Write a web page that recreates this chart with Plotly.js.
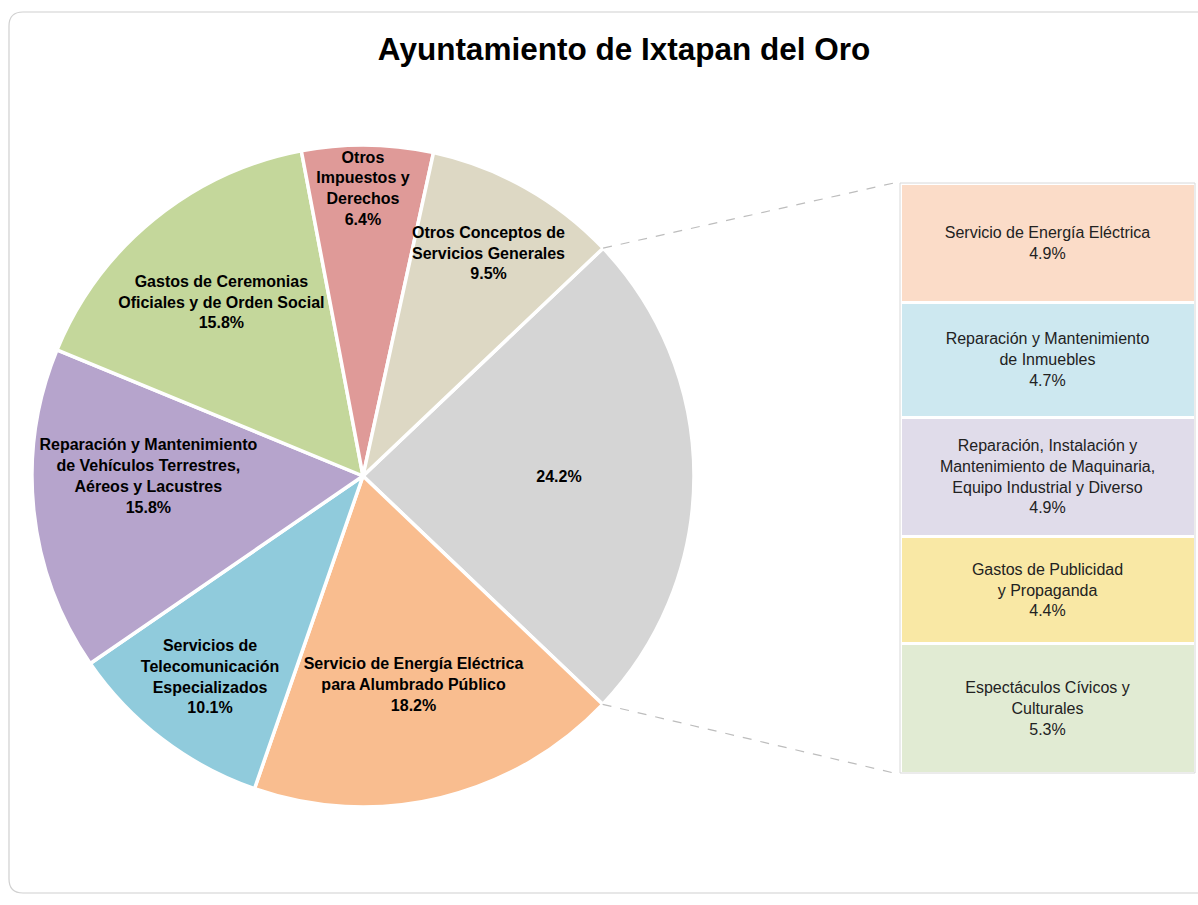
<!DOCTYPE html>
<html><head><meta charset="utf-8">
<script src="https://cdn.plot.ly/plotly-3.0.1.min.js"></script>
<style>body{margin:0;background:#fff}</style>
</head><body><div id="chart" style="width:1198px;height:905px"></div>
<script>
const chartTitle = "Ayuntamiento de Ixtapan del Oro";
const pieLabels = [
  "Otros",
  "Servicio de Energía Eléctrica<br>para Alumbrado Público",
  "Servicios de<br>Telecomunicación<br>Especializados",
  "Reparación y Mantenimiento<br>de Vehículos Terrestres,<br>Aéreos y Lacustres",
  "Gastos de Ceremonias<br>Oficiales y de Orden Social",
  "Otros<br>Impuestos y<br>Derechos",
  "Otros Conceptos de<br>Servicios Generales"
];
const pieValues = [24.2, 18.2, 10.1, 15.8, 15.8, 6.4, 9.5];
const pieColors = ["#d5d5d5", "#f9bd8f", "#90cbdc", "#b6a4cc", "#c4d79b", "#df9a98", "#ddd8c4"];

const barLabels = [
  "Servicio de Energía Eléctrica",
  "Reparación y Mantenimiento<br>de Inmuebles",
  "Reparación, Instalación y<br>Mantenimiento de Maquinaria,<br>Equipo Industrial y Diverso",
  "Gastos de Publicidad<br>y Propaganda",
  "Espectáculos Cívicos y<br>Culturales"
];
const barValues = [4.9, 4.7, 4.9, 4.4, 5.3];
const barColors = ["#fbdcc8", "#cde8f0", "#e0dcea", "#f9e8a5", "#e1ebd3"];

const W = 1198, H = 905;
// geometry (pixels)
const pieCx = 363, pieCy = 476, pieR = 331;
const rotation = 46.5;
const barX0 = 900, barX1 = 1195, barY0 = 183, barY1 = 773;

const pieText = pieLabels.map((l, i) => (i === 0 ? "" : l + "<br>") + pieValues[i].toFixed(1) + "%");

const traces = [];
traces.push({
  type: "pie",
  labels: pieLabels,
  values: pieValues,
  text: pieText,
  textinfo: "text",
  textposition: "inside",
  insidetextorientation: "horizontal",
  sort: false,
  direction: "clockwise",
  rotation: rotation,
  marker: {colors: pieColors, line: {color: "#ffffff", width: 3.5}},
  textfont: {family: "Liberation Sans, Arial, sans-serif", size: 16, color: "#000000", weight: "bold"},
  domain: {
    x: [(pieCx - pieR) / W, (pieCx + pieR) / W],
    y: [1 - (pieCy + pieR) / H, 1 - (pieCy - pieR) / H]
  },
  hoverinfo: "none",
  showlegend: false
});

for (let i = barValues.length - 1; i >= 0; i--) {
  traces.push({
    type: "bar",
    x: ["otros"],
    y: [barValues[i]],
    text: [barLabels[i] + "<br>" + barValues[i].toFixed(1) + "%"],
    textposition: "inside",
    insidetextanchor: "middle",
    textangle: 0,
    constraintext: "none",
    textfont: {family: "Liberation Sans, Arial, sans-serif", size: 16, color: "#222222"},
    marker: {color: barColors[i], line: {color: "#ffffff", width: 3}},
    hoverinfo: "none",
    showlegend: false,
    xaxis: "x", yaxis: "y"
  });
}

const total = barValues.reduce((a, b) => a + b, 0);
const pieTotal = pieValues.reduce((a, b) => a + b, 0);
const a1 = rotation * Math.PI / 180;
const a2 = (rotation + 360 * pieValues[0] / pieTotal) * Math.PI / 180;
const px = (x) => x / W, py = (y) => 1 - y / H;
const p1 = [pieCx + pieR * Math.sin(a1), pieCy - pieR * Math.cos(a1)];
const p2 = [pieCx + pieR * Math.sin(a2), pieCy - pieR * Math.cos(a2)];

const fx0 = 9, fy0 = 12, fx1 = 1215, fy1 = 893, rr = 14;
const framePath = `M ${px(fx0)},${py(fy0 + rr)} Q ${px(fx0)},${py(fy0)} ${px(fx0 + rr)},${py(fy0)} L ${px(fx1)},${py(fy0)} L ${px(fx1)},${py(fy1)} L ${px(fx0 + rr)},${py(fy1)} Q ${px(fx0)},${py(fy1)} ${px(fx0)},${py(fy1 - rr)} Z`;

const layout = {
  width: W, height: H,
  margin: {l: 0, r: 0, t: 0, b: 0},
  paper_bgcolor: "#ffffff",
  plot_bgcolor: "rgba(0,0,0,0)",
  title: {
    text: "<b>" + chartTitle + "</b>",
    font: {family: "Liberation Sans, Arial, sans-serif", size: 31.5, color: "#000000"},
    x: 624 / W, xanchor: "center",
    y: 1 - 49 / H, yanchor: "middle", yref: "paper"
  },
  barmode: "stack",
  bargap: 0,
  xaxis: {domain: [px(barX0), px(barX1)], visible: false, fixedrange: true},
  yaxis: {domain: [py(barY1), py(barY0)], range: [0, total], visible: false, fixedrange: true},
  uniformtext: {mode: "show", minsize: 16},
  shapes: [
    {type: "path", xref: "paper", yref: "paper", path: framePath, line: {color: "#d0d0d0", width: 1.2}, layer: "below"},
    {type: "line", xref: "paper", yref: "paper", x0: px(p1[0]), y0: py(p1[1]), x1: px(barX0 - 6), y1: py(barY0), line: {color: "#bdbdbd", width: 1.2, dash: "dash"}},
    {type: "line", xref: "paper", yref: "paper", x0: px(p2[0]), y0: py(p2[1]), x1: px(barX0 - 6), y1: py(barY1), line: {color: "#bdbdbd", width: 1.2, dash: "dash"}},
    {type: "rect", xref: "paper", yref: "paper", x0: px(barX0), x1: px(barX1), y0: py(barY1), y1: py(barY0), line: {color: "#d8d8d8", width: 1}, layer: "above"}
  ]
};

Plotly.newPlot("chart", traces, layout, {displayModeBar: false, staticPlot: true});
</script>
</body></html>
